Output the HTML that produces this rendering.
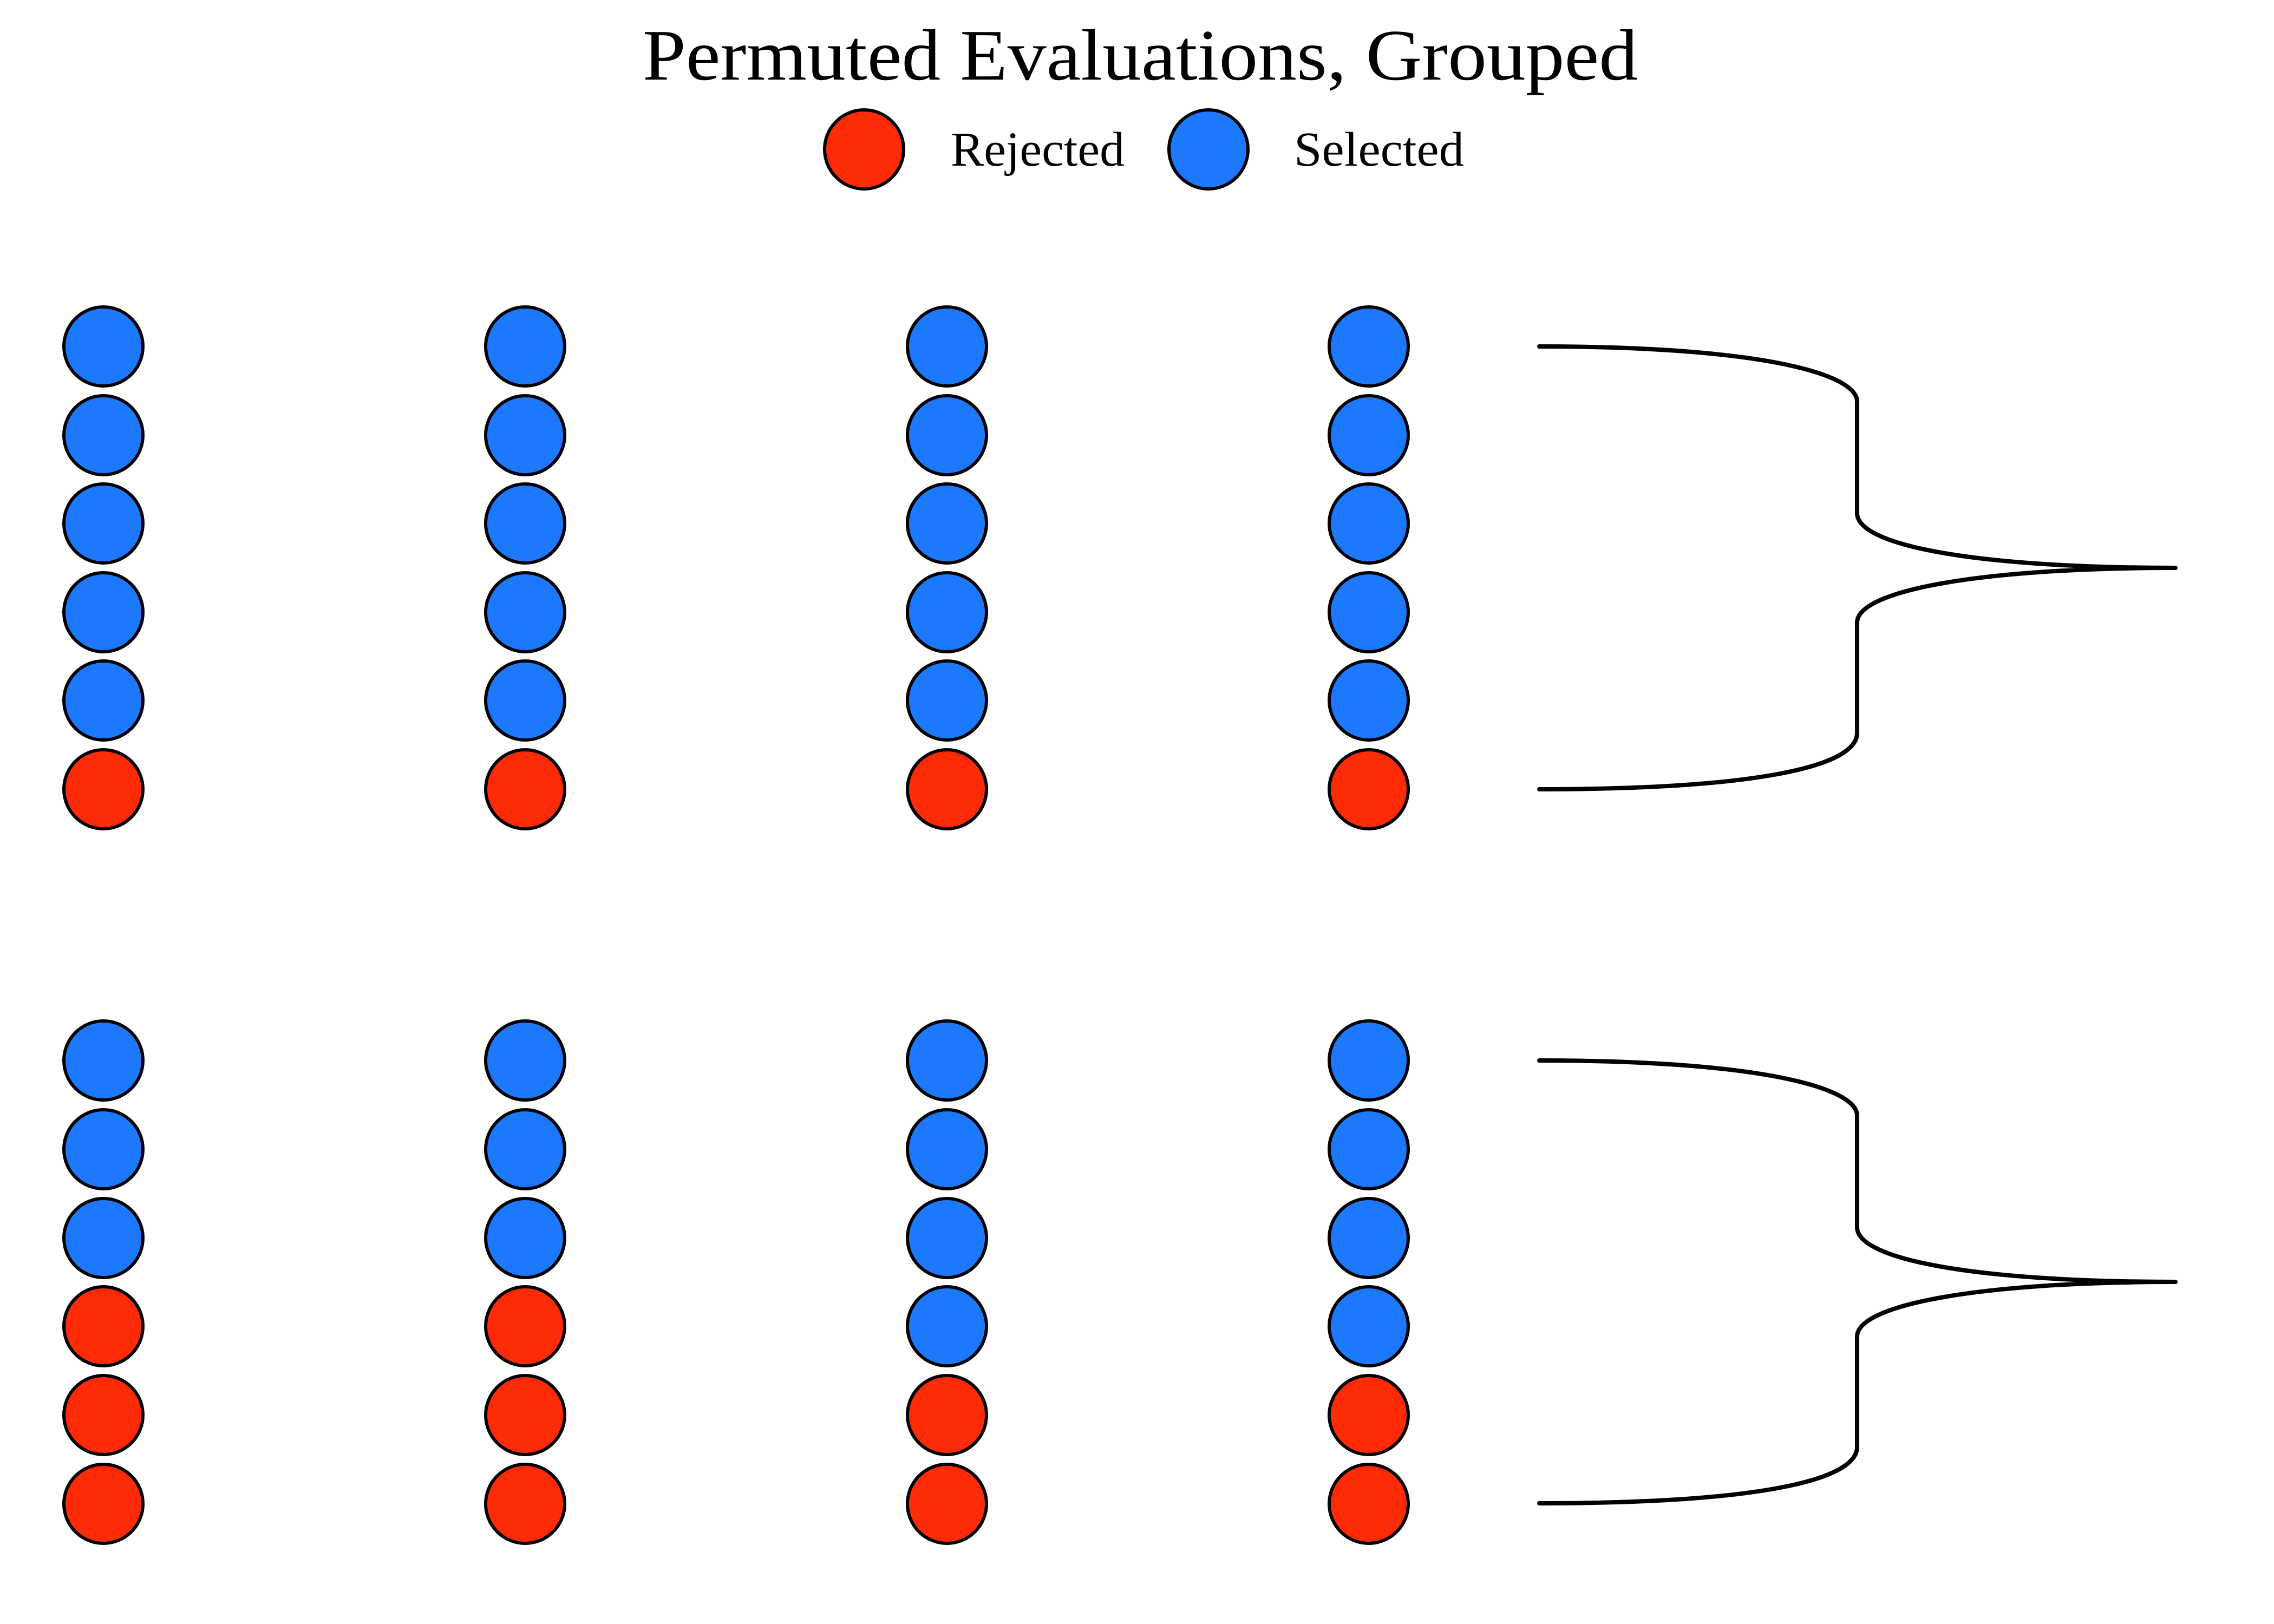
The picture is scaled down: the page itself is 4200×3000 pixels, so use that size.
<!DOCTYPE html>
<html><head><meta charset="utf-8"><style>
html,body{margin:0;padding:0;background:#fff;}
svg{display:block;}
</style></head><body>
<svg width="4200" height="3000" viewBox="0 0 4200 3000" xmlns="http://www.w3.org/2000/svg">
<rect width="4200" height="3000" fill="#fff"/>
<g font-family="Liberation Serif, serif" fill="#000">
<text x="1187" y="147" font-size="134" textLength="1838" lengthAdjust="spacingAndGlyphs">Permuted Evaluations, Grouped</text>
<text x="1756" y="306" font-size="90" textLength="321" lengthAdjust="spacingAndGlyphs">Rejected</text>
<text x="2390" y="306" font-size="90" textLength="314" lengthAdjust="spacingAndGlyphs">Selected</text>
</g>
<g stroke="#000" stroke-width="6">
<circle cx="1596" cy="276" r="73" fill="#ff2b06"/>
<circle cx="2232" cy="276" r="73" fill="#1c79fe"/>
</g>
<g stroke="#000" stroke-width="6">
<g fill="#1c79fe">
<circle cx="191" cy="640" r="73"/><circle cx="191" cy="804" r="73"/><circle cx="191" cy="967" r="73"/><circle cx="191" cy="1131" r="73"/><circle cx="191" cy="1294" r="73"/>
<circle cx="970" cy="640" r="73"/><circle cx="970" cy="804" r="73"/><circle cx="970" cy="967" r="73"/><circle cx="970" cy="1131" r="73"/><circle cx="970" cy="1294" r="73"/>
<circle cx="1749" cy="640" r="73"/><circle cx="1749" cy="804" r="73"/><circle cx="1749" cy="967" r="73"/><circle cx="1749" cy="1131" r="73"/><circle cx="1749" cy="1294" r="73"/>
<circle cx="2528" cy="640" r="73"/><circle cx="2528" cy="804" r="73"/><circle cx="2528" cy="967" r="73"/><circle cx="2528" cy="1131" r="73"/><circle cx="2528" cy="1294" r="73"/>
</g>
<g fill="#ff2b06">
<circle cx="191" cy="1458" r="73"/><circle cx="970" cy="1458" r="73"/><circle cx="1749" cy="1458" r="73"/><circle cx="2528" cy="1458" r="73"/>
</g>
<g fill="#1c79fe">
<circle cx="191" cy="1959" r="73"/><circle cx="191" cy="2123" r="73"/><circle cx="191" cy="2287" r="73"/>
<circle cx="970" cy="1959" r="73"/><circle cx="970" cy="2123" r="73"/><circle cx="970" cy="2287" r="73"/>
<circle cx="1749" cy="1959" r="73"/><circle cx="1749" cy="2123" r="73"/><circle cx="1749" cy="2287" r="73"/><circle cx="1749" cy="2450" r="73"/>
<circle cx="2528" cy="1959" r="73"/><circle cx="2528" cy="2123" r="73"/><circle cx="2528" cy="2287" r="73"/><circle cx="2528" cy="2450" r="73"/>
</g>
<g fill="#ff2b06">
<circle cx="191" cy="2450" r="73"/><circle cx="191" cy="2614" r="73"/><circle cx="191" cy="2778" r="73"/>
<circle cx="970" cy="2450" r="73"/><circle cx="970" cy="2614" r="73"/><circle cx="970" cy="2778" r="73"/>
<circle cx="1749" cy="2614" r="73"/><circle cx="1749" cy="2778" r="73"/>
<circle cx="2528" cy="2614" r="73"/><circle cx="2528" cy="2778" r="73"/>
</g>
</g>
<g fill="none" stroke="#000" stroke-width="8" stroke-linejoin="round" stroke-linecap="round">
<path d="M2843,640 C3250,640 3430,690 3430,742 L3430,948 C3430,1008 3650,1049 4018,1049 C3650,1049 3430,1092 3430,1150 L3430,1354 C3430,1415 3250,1458 2843,1458"/>
<path d="M2843,1959 C3250,1959 3430,2009 3430,2061 L3430,2267 C3430,2327 3650,2368 4018,2368 C3650,2368 3430,2411 3430,2469 L3430,2673 C3430,2734 3250,2777 2843,2777"/>
</g>
</svg>
</body></html>
